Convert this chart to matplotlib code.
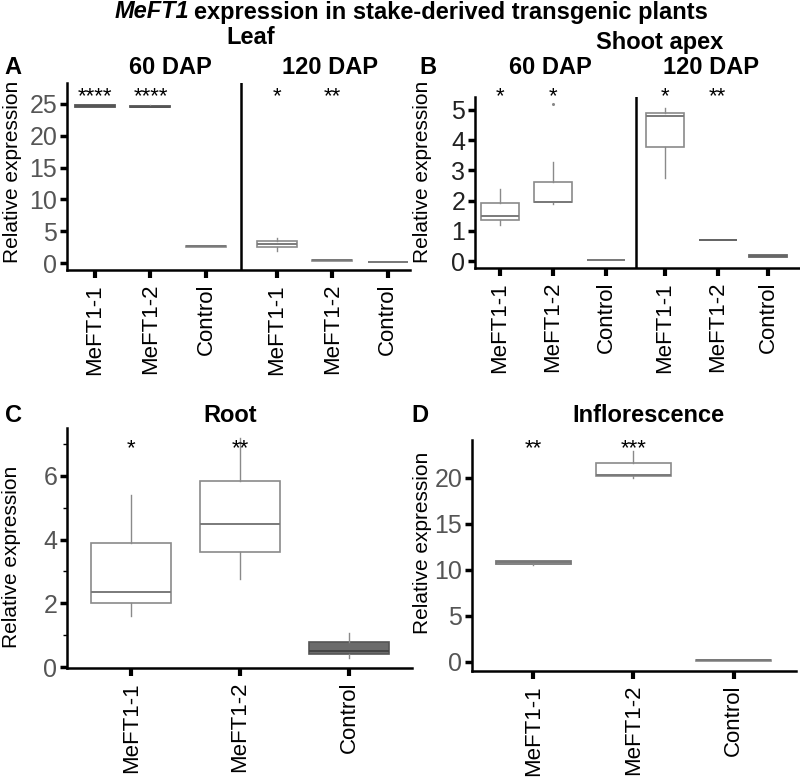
import matplotlib
matplotlib.use('agg')
import matplotlib.pyplot as plt

plt.rcParams['font.family'] = ['Liberation Sans', 'DejaVu Sans']

W, H = 800, 780

groups = ['MeFT1-1', 'MeFT1-2', 'Control']

# panel A: leaf, 60 DAP then 120 DAP
a_q1 = [24.6, 24.55, 2.55, 2.55, 0.38, 0.13]
a_med = [24.7, 24.6, 2.6, 3.0, 0.4, 0.15]
a_q3 = [24.8, 24.7, 2.65, 3.5, 0.42, 0.17]
a_lo = [24.5, 24.5, 2.55, 1.9, 0.38, 0.13]
a_hi = [24.9, 24.8, 2.65, 3.9, 0.42, 0.17]
a_stars = ['****', '****', '', '*', '**', '']

# panel B: shoot apex, 60 DAP then 120 DAP
b_q1 = [1.35, 1.95, 0.03, 3.78, 0.69, 0.15]
b_med = [1.48, 1.97, 0.04, 4.8, 0.7, 0.18]
b_q3 = [1.93, 2.63, 0.05, 4.9, 0.71, 0.2]
b_lo = [1.2, 1.9, 0.03, 2.75, 0.69, 0.14]
b_hi = [2.4, 3.28, 0.05, 5.05, 0.71, 0.21]
b_out = [[], [5.2], [], [], [], []]
b_stars = ['*', '*', '', '*', '**', '']

# panel C: root
c_q1 = [2.0, 3.6, 0.4]
c_med = [2.35, 4.48, 0.5]
c_q3 = [3.9, 5.85, 0.78]
c_lo = [1.6, 2.75, 0.28]
c_hi = [5.4, 7.2, 1.08]
c_stars = ['*', '**', '']

# panel D: inflorescence
d_q1 = [10.65, 20.2, 0.13]
d_med = [10.8, 20.3, 0.15]
d_q3 = [10.9, 21.6, 0.17]
d_lo = [10.5, 20.0, 0.13]
d_hi = [10.9, 22.9, 0.17]
d_stars = ['**', '***', '']


def px_axes(fig, left, top, right, bottom):
    ax = fig.add_axes([left / W, 1 - bottom / H, (right - left) / W, (bottom - top) / H])
    ax._px = (left, top, right, bottom)
    return ax


def stats(q1, med, q3, lo, hi, out=None):
    res = []
    for i in range(len(q1)):
        res.append(dict(q1=q1[i], med=med[i], q3=q3[i], whislo=lo[i], whishi=hi[i],
                        fliers=out[i] if out else []))
    return res


def style(ax, tickcolor, label_x, label_y):
    # label_x is the right edge of the rotated y label, in pixels
    for s in ['top', 'right']:
        ax.spines[s].set_visible(False)
    for s in ['left', 'bottom']:
        ax.spines[s].set_linewidth(1.8)
    ax.tick_params(axis='x', length=6, width=3, labelsize=16, labelrotation=90, pad=4)
    ax.tick_params(axis='y', length=5, width=2.5, labelsize=18, labelcolor=tickcolor, pad=2)
    ax.set_ylabel('Relative expression', fontsize=15)
    left, top, right, bottom = ax._px
    ax.yaxis.set_label_coords((label_x - left) / (right - left),
                              (bottom - label_y) / (bottom - top))


def draw(ax, st, pos, width, colors=None, fills=None):
    bp = ax.bxp(st, positions=pos, widths=width, showcaps=False, patch_artist=True,
                boxprops=dict(edgecolor='#8a8a8a', facecolor='white', linewidth=1.2),
                medianprops=dict(color='#7a7a7a', linewidth=1.4),
                whiskerprops=dict(color='#8a8a8a', linewidth=1.0),
                flierprops=dict(marker='o', markersize=1.2, markerfacecolor='#888888',
                                markeredgecolor='#888888'))
    if colors:
        for i, c in colors.items():
            bp['boxes'][i].set_edgecolor(c)
            bp['boxes'][i].set_linewidth(1.3)
            bp['medians'][i].set_color(c)
    if fills:
        for i, c in fills.items():
            bp['boxes'][i].set_facecolor(c)
            bp['boxes'][i].set_edgecolor('#555555')
            bp['medians'][i].set_color('#444444')
    return bp


def stars(ax, pos, labels, y):
    for p, s in zip(pos, labels):
        if s:
            ax.text(p, y, s, ha='center', va='center', fontsize=16, clip_on=False)


fig = plt.figure(figsize=(W / 100, H / 100), dpi=100)

# A
axA = px_axes(fig, 67, 83, 410, 270)
posA = [1, 2, 3, 4.28, 5.28, 6.28]
draw(axA, stats(a_q1, a_med, a_q3, a_lo, a_hi), posA, 0.72,
     colors={0: '#555555', 1: '#555555'})
axA.set_xlim(0.495, 6.68)
axA.set_ylim(-1.1, 28.3)
axA.set_yticks([0, 5, 10, 15, 20, 25])
axA.set_xticks(posA)
axA.set_xticklabels(groups * 2)
axA.axvline(3.63, color='black', linewidth=1.8)
style(axA, '#555555', 22, 172)
stars(axA, posA, a_stars, 26.2)

# B
axB = px_axes(fig, 475, 97, 800, 268)
posB = [1, 2, 3, 4.11, 5.11, 6.06]
draw(axB, stats(b_q1, b_med, b_q3, b_lo, b_hi, b_out), posB, 0.72,
     colors={4: '#666666', 5: '#666666'})
axB.set_xlim(0.53, 6.66)
axB.set_ylim(-0.23, 5.43)
axB.set_yticks([0, 1, 2, 3, 4, 5])
axB.set_xticks(posB)
axB.set_xticklabels(groups * 2)
axB.axvline(3.57, color='black', linewidth=1.8)
style(axB, '#222222', 432, 172)
stars(axB, posB, b_stars, 5.45)

# C
axC = px_axes(fig, 67, 428, 412, 668)
posC = [1, 2, 3]
draw(axC, stats(c_q1, c_med, c_q3, c_lo, c_hi), posC, 0.74, fills={2: '#6b6b6b'})
axC.set_xlim(0.41, 3.58)
axC.set_ylim(-0.03, 7.5)
axC.set_yticks([0, 2, 4, 6])
axC.set_yticks([1, 3, 5, 7], minor=True)
axC.tick_params(axis='y', which='minor', length=3, width=1)
axC.set_xticks(posC)
axC.set_xticklabels(groups)
style(axC, '#555555', 21, 557)
stars(axC, posC, c_stars, 6.85)

# D
axD = px_axes(fig, 472, 440, 796, 671)
posD = [1, 2, 3]
draw(axD, stats(d_q1, d_med, d_q3, d_lo, d_hi), posD, 0.75,
     colors={0: '#777777'})
axD.set_xlim(0.39, 3.62)
axD.set_ylim(-1.0, 24.1)
axD.set_yticks([0, 5, 10, 15, 20])
axD.set_xticks(posD)
axD.set_xticklabels(groups)
style(axD, '#555555', 432, 543)
stars(axD, posD, d_stars, 23.2)


def ftext(x, y, s, ha='center', **kw):
    fig.text(x / W, 1 - y / H, s, ha=ha, va='center', fontweight='bold', **kw)


ftext(189, 12, 'MeFT1', ha='right', fontstyle='italic', fontsize=17)
ftext(194, 12, 'expression in stake-derived transgenic plants', ha='left', fontsize=17)
ftext(251, 38, 'Leaf', fontsize=17)
ftext(170, 68, '60 DAP', fontsize=17)
ftext(330, 68, '120 DAP', fontsize=17)
ftext(660, 42, 'Shoot apex', fontsize=17)
ftext(550, 68, '60 DAP', fontsize=17)
ftext(711, 68, '120 DAP', fontsize=17)
ftext(230, 415, 'Root', fontsize=17)
ftext(648, 415, 'Inflorescence', fontsize=17)
ftext(13, 68, 'A', fontsize=17)
ftext(428, 68, 'B', fontsize=17)
ftext(13, 415, 'C', fontsize=17)
ftext(420, 415, 'D', fontsize=17)

fig.savefig('out.png', dpi=100)
